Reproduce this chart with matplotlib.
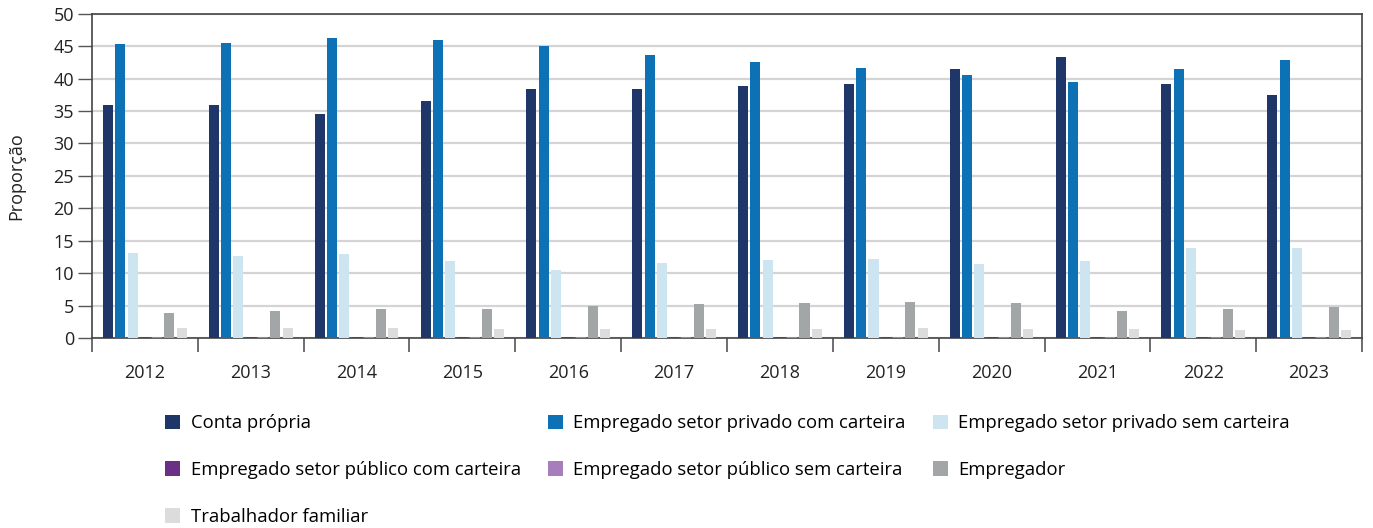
import matplotlib.pyplot as plt
import numpy as np

plt.rcParams['font.family'] = ['Open Sans', 'DejaVu Sans']

years = ['2012', '2013', '2014', '2015', '2016', '2017', '2018', '2019', '2020', '2021', '2022', '2023']

conta_propria = [35.9, 36.0, 34.6, 36.5, 38.4, 38.4, 38.8, 39.1, 41.4, 43.4, 39.2, 37.4]
priv_com = [45.4, 45.5, 46.3, 46.0, 45.0, 43.6, 42.5, 41.7, 40.6, 39.4, 41.4, 42.8]
priv_sem = [13.1, 12.6, 12.9, 11.8, 10.5, 11.5, 12.0, 12.1, 11.4, 11.8, 13.8, 13.9]
pub_com = [0.1] * 12
pub_sem = [0.1] * 12
empregador = [3.9, 4.2, 4.5, 4.4, 4.9, 5.2, 5.4, 5.5, 5.4, 4.2, 4.5, 4.8]
familiar = [1.5, 1.6, 1.6, 1.4, 1.3, 1.4, 1.3, 1.6, 1.4, 1.3, 1.2, 1.2]

series = [
    ('Conta própria', conta_propria, '#1f3668'),
    ('Empregado setor privado com carteira', priv_com, '#0d72b5'),
    ('Empregado setor privado sem carteira', priv_sem, '#cde4f1'),
    ('Empregado setor público com carteira', pub_com, '#6b2f86'),
    ('Empregado setor público sem carteira', pub_sem, '#a87dbb'),
    ('Empregador', empregador, '#a3a6a6'),
    ('Trabalhador familiar', familiar, '#dcdcdc'),
]

fig = plt.figure(figsize=(13.73, 5.28), dpi=100)
ax = fig.add_axes([0.067, 0.36, 0.925, 0.614])

x = np.arange(len(years))
pitch = 0.116
width = 0.095
handles = []
for j, (name, vals, col) in enumerate(series):
    h = ax.bar(x + (j - 3) * pitch, vals, width, color=col, label=name, zorder=3)
    handles.append(h)

ax.set_xlim(-0.5, 11.5)
ax.set_ylim(0, 50)
ax.set_yticks(np.arange(0, 51, 5))
ax.yaxis.grid(True, color='#d4d4d4', linewidth=1.6, zorder=0)
ax.tick_params(axis='y', length=10, width=1, color='#555555', labelsize=13, labelcolor='#222222', pad=3)

ax.set_xticks(np.arange(-0.5, 12, 1))
ax.set_xticklabels([])
ax.tick_params(axis='x', which='major', length=10, width=1.2, color='#555555')
ax.set_xticks(x, minor=True)
ax.set_xticklabels(years, minor=True)
ax.tick_params(axis='x', which='minor', length=0, labelsize=13, labelcolor='#222222', pad=19)

for s in ax.spines.values():
    s.set_color('#444444')
    s.set_linewidth(1.2)

ax.set_ylabel('Proporção', fontsize=13, color='#222222', labelpad=20)

order = [0, 3, 6, 1, 4, 2, 5]
fig.legend([handles[i] for i in order], [series[i][0] for i in order],
           loc='upper left', bbox_to_anchor=(0.12, 0.215), ncol=3, frameon=False,
           fontsize=13.3, handlelength=0.85, handleheight=0.85, handletextpad=0.55,
           labelspacing=1.55, columnspacing=1.45, borderaxespad=0, borderpad=0)

fig.savefig('out.png', dpi=100)
